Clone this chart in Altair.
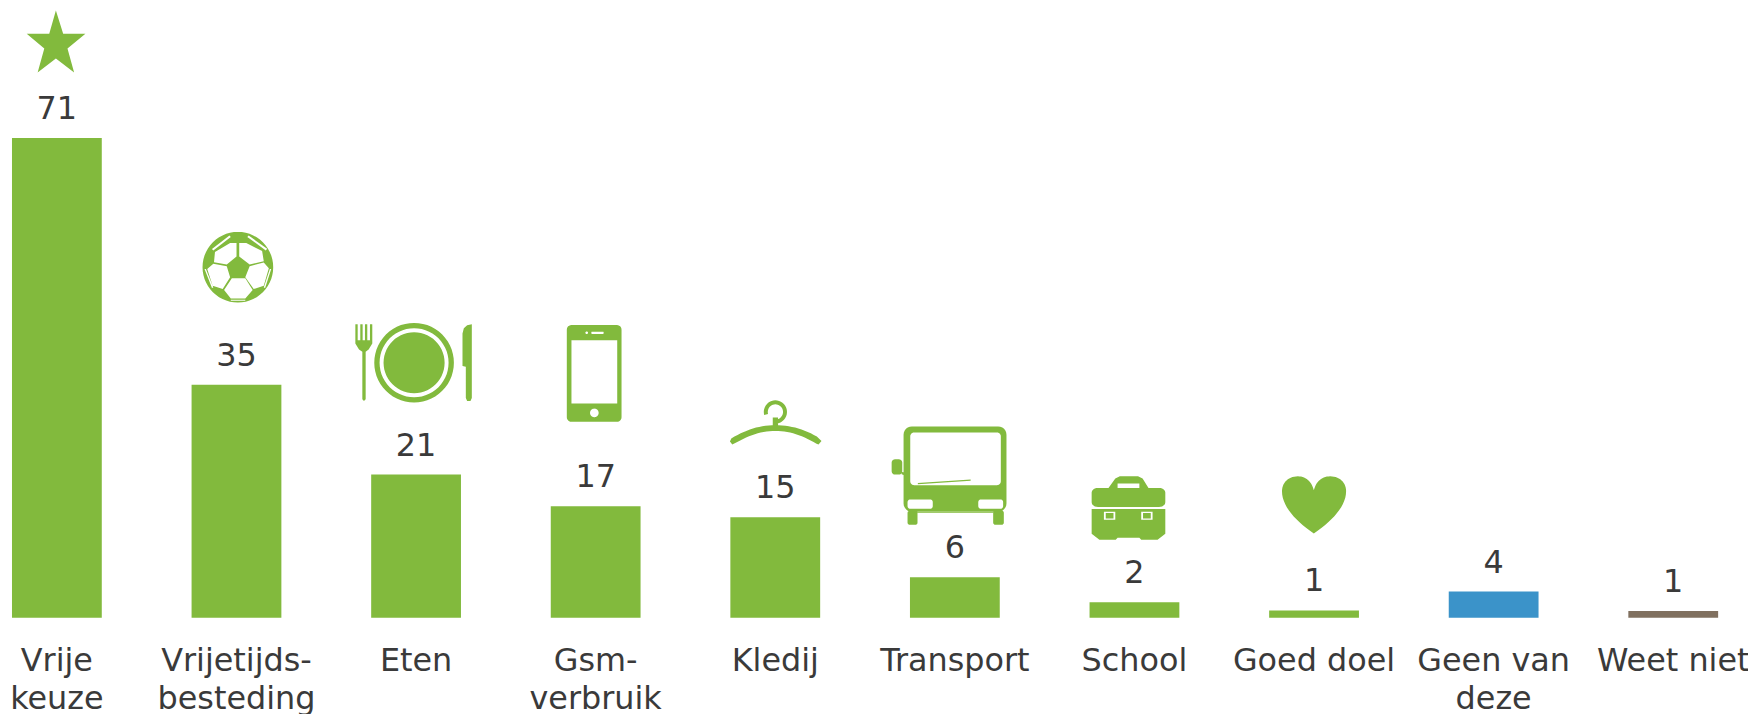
import math
import altair as alt
import pandas as pd

# ---- data ----
categories = ["Vrije|keuze", "Vrijetijds-|besteding", "Eten", "Gsm-|verbruik", "Kledij",
              "Transport", "School", "Goed doel", "Geen van|deze", "Weet niet"]
bar_values = [71, 34.5, 21.2, 16.5, 14.9, 6.0, 2.3, 1.1, 3.9, 1.0]
shown_values = [71, 35, 21, 17, 15, 6, 2, 1, 4, 1]
groups = ["aan", "aan", "aan", "aan", "aan", "aan", "aan", "aan", "geen", "weet niet"]
group_names = ["aan", "geen", "weet niet"]
group_colors = ["#82BA3D", "#3B93C9", "#80705F"]

GREEN = group_colors[0]
TEXT = "#3A3A3A"
FONT = "DejaVu Sans"


# ---- glyph helpers: every icon is one SVG path in the -1..1 symbol box ----
def area(p):
    return sum(p[i][0] * p[(i + 1) % len(p)][1] - p[(i + 1) % len(p)][0] * p[i][1] for i in range(len(p)))


def circle(cx, cy, r, n=56):
    return [(cx + r * math.cos(2 * math.pi * i / n), cy + r * math.sin(2 * math.pi * i / n)) for i in range(n)]


def rrect(x0, y0, x1, y1, r, n=6):
    pts = []
    for cx, cy, a in [(x1 - r, y0 + r, -90), (x1 - r, y1 - r, 0), (x0 + r, y1 - r, 90), (x0 + r, y0 + r, 180)]:
        for i in range(n + 1):
            t = math.radians(a + 90 * i / n)
            pts.append((cx + r * math.cos(t), cy + r * math.sin(t)))
    return pts


def band(cx, cy, ro, ri, a0, a1, n=30):
    angs = [math.radians(a0 + (a1 - a0) * i / n) for i in range(n + 1)]
    return [(cx + ro * math.cos(a), cy + ro * math.sin(a)) for a in angs] + \
           [(cx + ri * math.cos(a), cy + ri * math.sin(a)) for a in reversed(angs)]


def bez(p0, p1, p2, p3, n=14):
    out = []
    for i in range(n):
        t = i / n
        u = 1 - t
        out.append((u ** 3 * p0[0] + 3 * u * u * t * p1[0] + 3 * u * t * t * p2[0] + t ** 3 * p3[0],
                    u ** 3 * p0[1] + 3 * u * u * t * p1[1] + 3 * u * t * t * p2[1] + t ** 3 * p3[1]))
    return out


def glyph(solids, holes, cx, cy, hx, hy=None):
    """Polygons in reference-crop coordinates -> one path; holes wind the other way."""
    hy = hy or hx
    parts = []
    for polys, sign in ((solids, 1), (holes, -1)):
        for p in polys:
            if area(p) * sign < 0:
                p = list(reversed(p))
            parts.append("M" + "L".join(f"{(x - cx) / hx:.3f},{(y - cy) / hy:.3f}" for x, y in p) + "Z")
    return "".join(parts)


STAR = glyph([[(168, 30), (190, 100), (257, 100), (203, 145), (223, 217), (168, 175),
               (113, 217), (133, 145), (80, 100), (148, 100)]], [], 168, 123.5, 93.5)

BALL = glyph(
    [circle(713, 800, 105),
     [(713, 770), (745, 795), (733, 830), (692, 830), (682, 795)]],
    [[(709, 728), (690, 728), (645, 755), (642, 785), (680, 792), (709, 768)],
     [(717, 728), (738, 728), (785, 752), (790, 782), (748, 792), (717, 768)],
     [(640, 790), (680, 797), (690, 830), (668, 865), (638, 855), (622, 805)],
     [(790, 786), (805, 803), (790, 855), (760, 865), (735, 830), (748, 797)],
     [(695, 833), (735, 833), (757, 868), (735, 893), (692, 893), (672, 868)],
     [(688, 706), (692, 710), (640, 750), (636, 746)],
     [(745, 706), (800, 745), (796, 750), (741, 710)],
     [(614, 805), (618, 805), (640, 860), (636, 862)],
     [(812, 805), (808, 805), (790, 860), (794, 862)],
     [(692, 897), (735, 897), (735, 900), (692, 900)]],
    713, 800, 105)

CUTLERY = glyph(
    [[(1065, 1020), (1116, 1020), (1116, 1030), (1105, 1048), (1096, 1055), (1096, 1198), (1091, 1203),
      (1086, 1198), (1086, 1055), (1076, 1048), (1065, 1030)],
     rrect(1065, 972, 1072, 1022, 1), rrect(1080, 972, 1087, 1022, 1),
     rrect(1094, 972, 1101, 1022, 1), rrect(1109, 972, 1116, 1022, 1),
     circle(1242, 1088, 120), circle(1242, 1088, 92),
     [(1416, 972), (1416, 1194), (1412, 1203), (1402, 1203), (1398, 1194), (1398, 1100), (1388, 1098),
      (1388, 1000), (1392, 984), (1402, 975)]],
    [circle(1242, 1088, 104)],
    1240.5, 1087.5, 175.5)

PHONE = glyph(
    [rrect(80, 45, 245, 337, 14)],
    [rrect(94, 91, 232, 282, 0.5), circle(163, 310, 13), rrect(154, 65, 191, 72, 2), circle(140, 68.5, 4, 20)],
    162.5, 191, 146)

HANGER = glyph(
    [bez((575, 385), (620, 358), (660, 345), (708, 345)) + bez((708, 345), (756, 345), (800, 358), (842, 385))
     + [(847, 393), (838, 403)]
     + bez((832, 401), (790, 376), (750, 362), (708, 362)) + bez((708, 362), (666, 362), (626, 376), (584, 401))
     + [(578, 403), (571, 394)],
     [(700, 322), (716, 322), (716, 350), (700, 350)],
     band(708, 305, 35, 23, 90, -195)],
    [], 708.5, 337, 138.5)

BUS = glyph(
    [rrect(1090, 350, 1400, 607, 25),
     [(1133, 520), (1292, 510), (1292, 514), (1133, 524)],
     rrect(1102, 604, 1132, 646, 6), rrect(1360, 604, 1392, 646, 6),
     rrect(1054, 449, 1086, 495, 10),
     [(1084, 486), (1092, 490), (1092, 497), (1084, 494)]],
    [rrect(1110, 368, 1383, 527, 12), rrect(1102, 570, 1178, 598, 8), rrect(1315, 570, 1390, 598, 8),
     [(1132, 608), (1360, 608), (1360, 610), (1132, 610)]],
    1226.5, 498.5, 173.5)

BAG = glyph(
    [rrect(113, 113, 275, 170, 14),
     [(113, 176), (275, 176), (275, 250), (258, 268), (222, 268), (218, 262), (170, 262), (166, 268),
      (130, 268), (113, 250)],
     [(150, 113), (165, 85), (175, 78), (215, 78), (225, 85), (238, 113)],
     [(144, 188), (161, 188), (161, 204), (144, 204)],
     [(226, 188), (243, 188), (243, 204), (226, 204)]],
    [[(170, 100), (218, 100), (218, 113), (170, 113)],
     [(140, 184), (165, 184), (165, 208), (140, 208)],
     [(222, 184), (247, 184), (247, 208), (222, 208)]],
    194, 173, 81, 110)

HEART = glyph(
    [bez((600, 252), (560, 215), (530, 170), (530, 125)) + bez((530, 125), (530, 98), (545, 80), (565, 80))
     + bez((565, 80), (582, 80), (595, 95), (600, 122)) + bez((600, 122), (605, 95), (618, 80), (636, 80))
     + bez((636, 80), (656, 80), (671, 98), (671, 125)) + bez((671, 125), (671, 170), (640, 215), (600, 252))],
    [], 600.5, 166, 70.5, 96.5)

# one entry per icon: bar, path, box width in px, offset from the top-centre of the bar
icon_specs = [
    ("Vrije|keuze", STAR, 62.3, -1, -97),
    ("Vrijetijds-|besteding", BALL, 71, 1.4, -118),
    ("Eten", CUTLERY, 117, -2.5, -112.5),
    ("Gsm-|verbruik", PHONE, 97.3, -1.5, -133.5),
    ("Kledij", HANGER, 92.3, 0.3, -95),
    ("Transport", BUS, 115.7, -6, -102),
    ("School", BAG, 74, -6, -94.7),
    ("Goed doel", HEART, 64.4, 0, -106),
]

df = pd.DataFrame({"categorie": categories, "waarde": bar_values, "label": shown_values, "groep": groups})

x = alt.X(
    "categorie:N",
    sort=categories,
    title=None,
    scale=alt.Scale(type="band", domain=categories, paddingInner=0.5, paddingOuter=0, round=False),
    axis=alt.Axis(
        domain=False, ticks=False, grid=False, labelAngle=0, labelFont=FONT, labelFontSize=32,
        labelColor=TEXT, labelPadding=28, labelLimit=0, labelOverlap=False, labelFlush=False,
        labelBound=False, labelLineHeight=38.5, labelExpr="split(datum.value, '|')",
    ),
)
y = alt.Y("waarde:Q", title=None, axis=None, scale=alt.Scale(domain=[0, 90], nice=False, zero=True))

base = alt.Chart(df).encode(x=x, y=y)

bars = base.mark_bar().encode(
    color=alt.Color("groep:N", legend=None, scale=alt.Scale(domain=group_names, range=group_colors))
)
labels = base.mark_text(font=FONT, fontSize=32, color=TEXT, align="center", baseline="alphabetic", dy=-19).encode(
    text="label:Q"
)
icons = [
    base.transform_filter(alt.datum.categorie == name).mark_point(
        shape=path, size=w ** 2, filled=True, fill=GREEN, opacity=1, strokeWidth=0,
        xOffset=dx, yOffset=dy, clip=False,
    )
    for name, path, w, dx, dy in icon_specs
]

chart = alt.layer(bars, labels, *icons).properties(
    width=1714, height=611,
    padding={"left": 4, "top": 0, "right": 30, "bottom": 95},
    autosize=alt.AutoSizeParams(type="none"),
    background="white",
).configure_view(stroke=None)

chart.save("out.html", embed_options={"renderer": "svg", "actions": False})
